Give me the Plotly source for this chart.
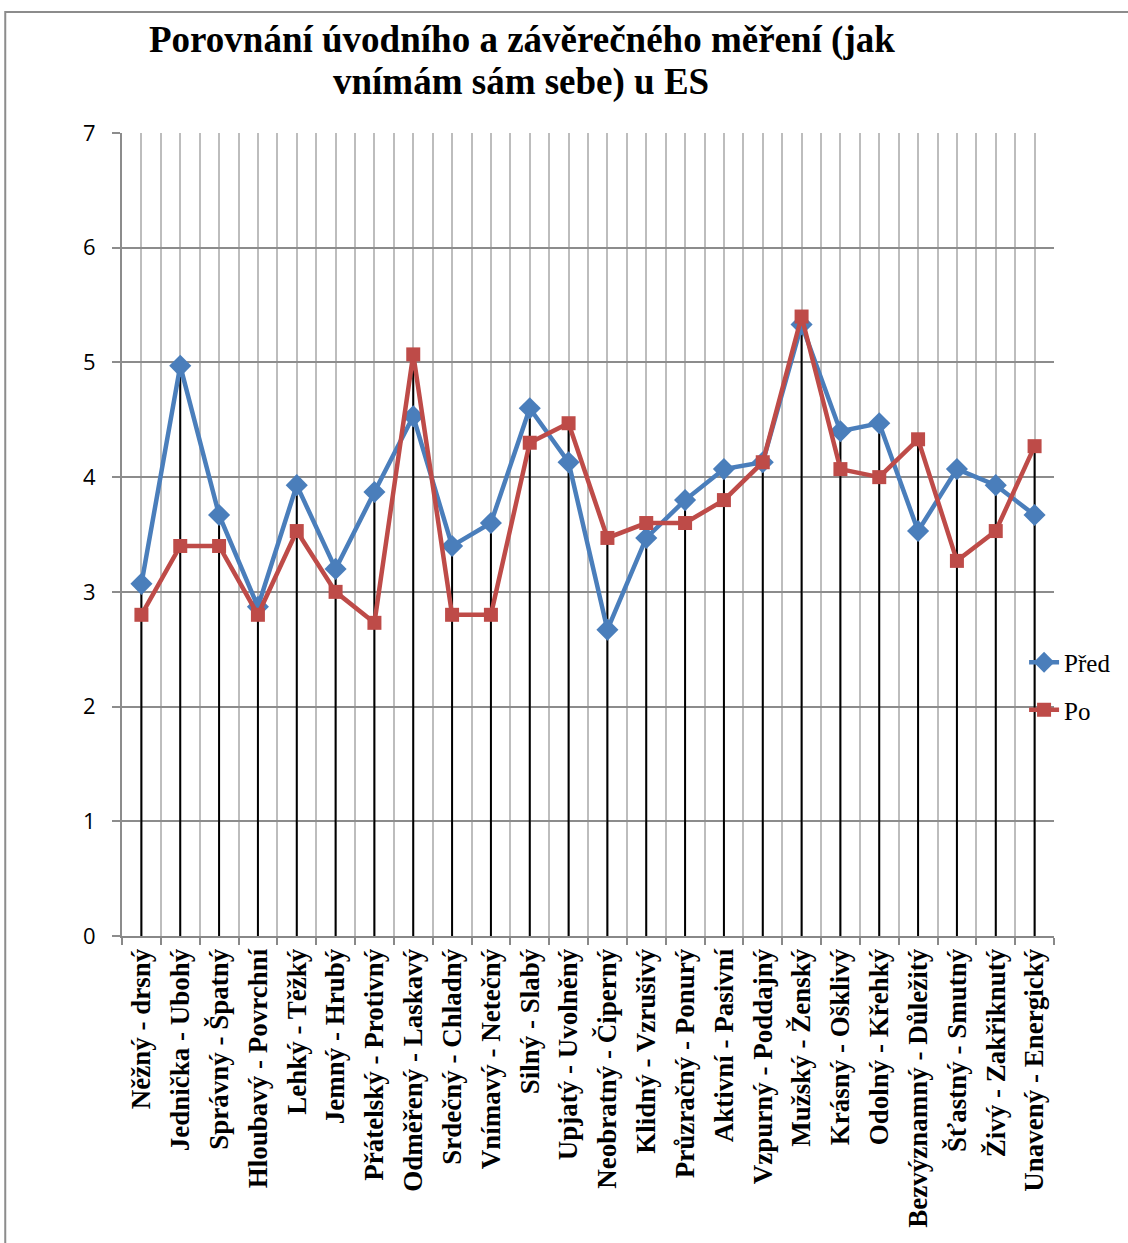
import plotly.graph_objects as go

categories = [
    "Něžný - drsný", "Jednička - Ubohý", "Správný - Špatný", "Hloubavý - Povrchní",
    "Lehký - Těžký", "Jemný - Hrubý", "Přátelský - Protivný", "Odměřený - Laskavý",
    "Srdečný - Chladný", "Vnímavý - Netečný", "Silný - Slabý", "Upjatý - Uvolněný",
    "Neobratný - Čiperný", "Klidný - Vzrušivý", "Průzračný - Ponurý", "Aktivní - Pasivní",
    "Vzpurný - Poddajný", "Mužský - Ženský", "Krásný - Ošklivý", "Odolný - Křehký",
    "Bezvýznamný - Důležitý", "Šťastný - Smutný", "Živý - Zakřiknutý", "Unavený - Energický",
]
pred = [3.07, 4.97, 3.67, 2.87, 3.93, 3.2, 3.87, 4.53, 3.4, 3.6, 4.6, 4.13,
        2.67, 3.47, 3.8, 4.07, 4.13, 5.33, 4.4, 4.47, 3.53, 4.07, 3.93, 3.67]
po = [2.8, 3.4, 3.4, 2.8, 3.53, 3.0, 2.73, 5.07, 2.8, 2.8, 4.3, 4.47,
      3.47, 3.6, 3.6, 3.8, 4.13, 5.4, 4.07, 4.0, 4.33, 3.27, 3.53, 4.27]
series_names = ["Před", "Po"]
title_lines = ["Porovnání úvodního a závěrečného měření (jak", "vnímám sám sebe) u ES"]

x = list(range(len(categories)))
top = [max(a, b) for a, b in zip(pred, po)]
boundaries = [i - 0.5 for i in range(len(categories) + 1)]

fig = go.Figure()

# drop lines
fig.add_trace(go.Scatter(
    x=x, y=top, mode="markers", marker=dict(size=0.1, color="rgba(0,0,0,0)"),
    error_y=dict(type="data", symmetric=False, array=[0] * len(top), arrayminus=top,
                 color="black", thickness=2, width=0),
    showlegend=False, hoverinfo="skip"))

fig.add_trace(go.Scatter(
    x=x, y=pred, mode="lines+markers", name=series_names[0], legendgroup="a",
    line=dict(color="#4A7EBB", width=4.5),
    marker=dict(symbol="diamond", size=17, color="#4A7EBB")))
fig.add_trace(go.Scatter(
    x=x, y=po, mode="lines+markers", name=series_names[1], legendgroup="b",
    line=dict(color="#BE4B48", width=4.5),
    marker=dict(symbol="square", size=14, color="#BE4B48")))

W, H = 1128, 1243
L, R, T, B = 122, 72, 133, 307
PW, PH = W - L - R, H - T - B

fig.update_layout(
    width=W, height=H,
    margin=dict(l=L, r=R, t=T, b=B),
    paper_bgcolor="white", plot_bgcolor="white",
    xaxis=dict(
        range=[-0.5, len(categories) - 0.5],
        tickmode="array", tickvals=x, ticktext=[f"<b>{c}</b>" for c in categories],
        tickangle=-90, ticks="", showgrid=True, gridcolor="#BDBDBD", gridwidth=2,
        tickfont=dict(family="Liberation Serif", size=27, color="black"),
        showline=True, linecolor="#888888", linewidth=2, zeroline=False,
        minor=dict(tickmode="array", tickvals=boundaries, ticks="outside", ticklen=7,
                   tickcolor="#888888", tickwidth=2, showgrid=True, gridcolor="#BDBDBD", gridwidth=2),
    ),
    yaxis=dict(
        range=[0, 7], dtick=1, tick0=0, showgrid=True, gridcolor="#8C8C8C", gridwidth=2,
        ticks="outside", ticklen=8, tickcolor="#8C8C8C", tickwidth=2, ticklabelstandoff=12,
        showline=True, linecolor="#8C8C8C", linewidth=2, zeroline=False,
        tickfont=dict(family="Open Sans", size=22, color="black"),
    ),
    legend=dict(x=(1026 - L) / PW, xanchor="left", y=(936 - 686) / PH, yanchor="middle",
                bgcolor="rgba(0,0,0,0)", font=dict(family="Liberation Serif", size=25, color="black"),
                tracegroupgap=12, itemwidth=30),
    annotations=[
        dict(text=f"<b>{title_lines[0]}</b>", xref="paper", yref="paper",
             x=(523 - L) / PW, y=1 + (T - 40) / PH, xanchor="center", yanchor="middle",
             showarrow=False, font=dict(family="Liberation Serif", size=37, color="black")),
        dict(text=f"<b>{title_lines[1]}</b>", xref="paper", yref="paper",
             x=(522 - L) / PW, y=1 + (T - 82) / PH, xanchor="center", yanchor="middle",
             showarrow=False, font=dict(family="Liberation Serif", size=37, color="black")),
    ],
    shapes=[dict(type="rect", xref="paper", yref="paper",
                 x0=-117 / PW, x1=1.2, y0=-0.5, y1=1 + 121 / PH,
                 line=dict(color="#8C8C8C", width=2), layer="below")],
)

fig.write_html("out.html")
